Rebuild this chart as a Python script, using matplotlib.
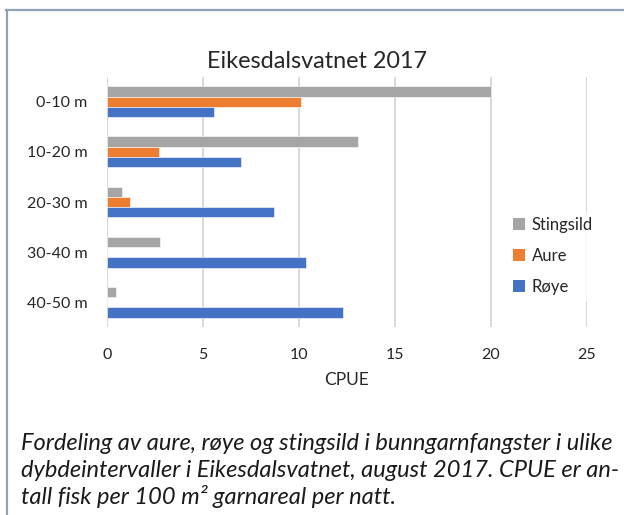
import matplotlib
matplotlib.use("Agg")
import matplotlib.pyplot as plt
from matplotlib.lines import Line2D
from matplotlib.patches import Patch
import numpy as np

categories = ["0-10 m", "10-20 m", "20-30 m", "30-40 m", "40-50 m"]
series_names = ["Stingsild", "Aure", "Røye"]
stingsild = [20.0, 13.1, 0.8, 2.8, 0.5]
aure = [10.1, 2.7, 1.2, 0.0, 0.0]
roye = [5.6, 7.0, 8.7, 10.4, 12.3]
x_ticks = [0, 5, 10, 15, 20, 25]
colors = ["#A5A5A5", "#ED7D31", "#4472C4"]
title = "Eikesdalsvatnet 2017"
xlabel = "CPUE"
caption = ["Fordeling av aure, røye og stingsild i bunngarnfangster i ulike",
           "dybdeintervaller i Eikesdalsvatnet, august 2017. CPUE er an-",
           "tall fisk per 100 m² garnareal per natt."]

plt.rcParams['font.family'] = ['Lato', 'DejaVu Sans']

W, H = 624, 515
fig = plt.figure(figsize=(W / 100, H / 100), dpi=100)
fig.patch.set_facecolor("white")

x0, x1 = 106.7, 586.7
ytop, ybot = 76.7, 327.3
ax = fig.add_axes([x0 / W, 1 - ybot / H, (x1 - x0) / W, (ybot - ytop) / H])

pos = np.arange(len(categories)) + 0.5
h = 0.205
for vals, off, c, name in zip([stingsild, aure, roye], [-h, 0, h], colors, series_names):
    ax.barh(pos + off, vals, height=h, color=c, label=name, zorder=3,
            edgecolor="white", linewidth=0.4)

ax.set_xlim(0, 25)
ax.set_ylim(len(categories), 0)
ax.set_xticks(x_ticks)
ax.set_xticklabels([str(t) for t in x_ticks], fontsize=11.5, color="#262626")
ax.set_yticks(pos)
ax.set_yticklabels(categories, fontsize=11.5, color="#262626")
ax.tick_params(axis="both", length=0)
ax.tick_params(axis="x", pad=15)
ax.tick_params(axis="y", pad=14)
ax.grid(axis="x", color="#D9D9D9", linewidth=1.5, zorder=0)
for s in ax.spines.values():
    s.set_visible(False)
ax.set_xlabel(xlabel, fontsize=12.5, color="#262626", labelpad=7)

renderer = fig.canvas.get_renderer()

def fit(txt, target_w, size):
    txt.set_fontsize(size)
    w = txt.get_window_extent(renderer).width
    txt.set_fontsize(size * target_w / w)

t = fig.text(317 / W, 1 - 61 / H, title, ha="center", va="center", fontsize=15, color="#262626")
fit(t, 221, 15)

handles = [Patch(facecolor=c, edgecolor="none") for c in colors]
leg = fig.legend(handles, series_names, loc="center left",
                 bbox_to_anchor=(500 / W, 1 - 256 / H), frameon=True,
                 fontsize=12, handlelength=0.7, handleheight=0.7,
                 handletextpad=0.4, labelspacing=0.9, borderpad=0.3)
leg.get_frame().set_edgecolor("white")
leg.get_frame().set_facecolor("white")
for tt in leg.get_texts():
    tt.set_color("#262626")

ys = [450, 477, 504]
texts = []
for line, yy in zip(caption, ys):
    texts.append(fig.text(21 / W, 1 - yy / H, line, ha="left", va="baseline", fontsize=13,
                          style="italic", color="#1a1a1a"))
w0 = texts[0].get_window_extent(renderer).width
cs = 13 * 591 / w0
for tt in texts:
    tt.set_fontsize(cs)

fc = "#8FA3B8"
fig.add_artist(Line2D([6 / W, 1], [1 - 9.5 / H, 1 - 9.5 / H], color=fc, linewidth=1.6,
                      transform=fig.transFigure))
fig.add_artist(Line2D([7 / W, 7 / W], [0, 1 - 9.5 / H], color=fc, linewidth=1.6,
                      transform=fig.transFigure))

fig.savefig("out.png", dpi=100, facecolor="white")
